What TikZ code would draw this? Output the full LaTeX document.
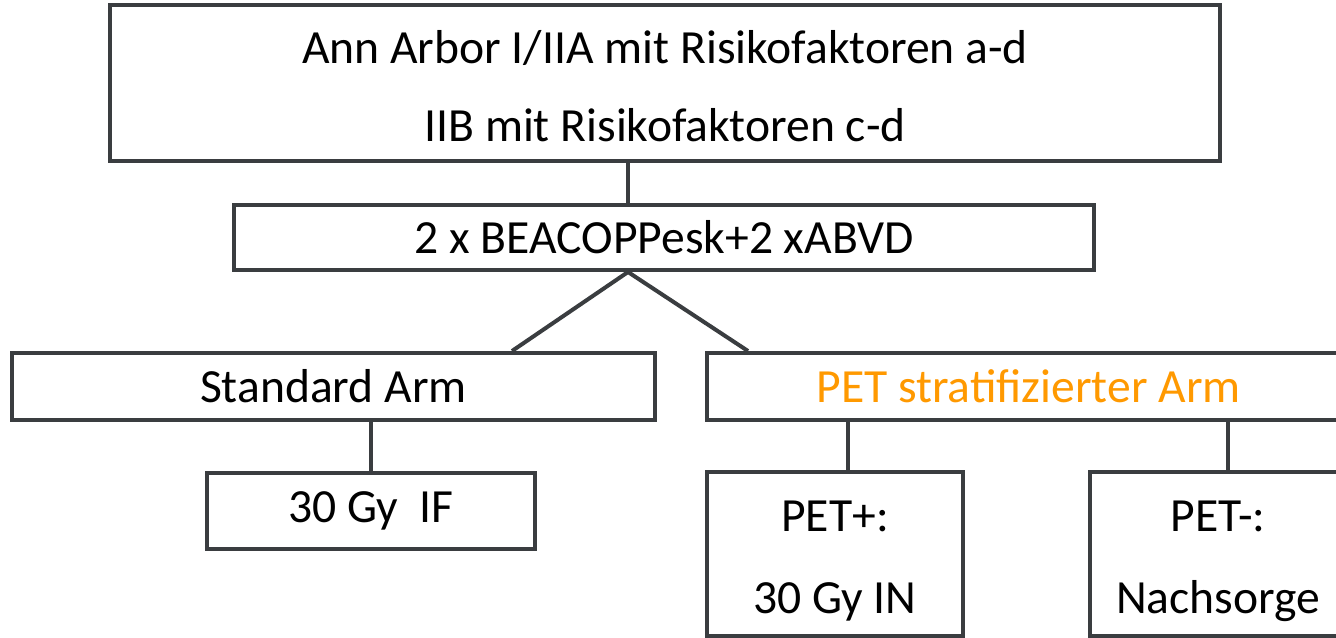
\documentclass[tikz,border=0pt]{standalone}
\usepackage{fontspec}
\setmainfont{Carlito}
\definecolor{linegray}{RGB}{58,61,64}
\definecolor{petorange}{RGB}{255,153,0}
\newcommand{\twolines}[3]{\raisebox{#1}[\height][\depth]{\begin{tabular}{@{}c@{}}#2\\#3\end{tabular}}}
\begin{document}
\begin{tikzpicture}[x=0.5pt,y=-0.5pt,
  box/.style={draw=linegray,line width=2pt,fill=white,rectangle,inner sep=0pt,align=center,
    font=\fontsize{23.8}{39}\selectfont},
  tallbox/.style={box,font=\fontsize{23.8}{41}\selectfont},
  conn/.style={draw=linegray,line width=2pt}]
\useasboundingbox (0,0) rectangle (1336,637);
\clip (0,0) rectangle (1336,637);
\node[box,minimum width=555pt,minimum height=75.5pt] (b1) at (665,82.5)
  {\twolines{-2pt}{Ann Arbor I/IIA mit Risikofaktoren a-d}{IIB mit Risikofaktoren c-d}};
\node[box,minimum width=430pt,minimum height=32.5pt] (b2) at (664,237.5) {2 x BEACOPPesk+2 xABVD};
\node[box,minimum width=321.5pt,minimum height=33.5pt] (b3) at (333.5,386.5) {Standard Arm};
\node[box,minimum width=321.5pt,minimum height=33.5pt,text=petorange] (b4) at (1028.5,386.5) {PET stratifizierter Arm};
\node[box,minimum width=164pt,minimum height=38pt] (b5) at (371,511) {30 Gy\ \ IF};
\node[tallbox,minimum width=128pt,minimum height=81pt] (b6) at (835,554) {\twolines{-1pt}{PET+:}{30 Gy IN}};
\node[tallbox,minimum width=128pt,minimum height=81pt] (b7) at (1218,554) {\twolines{-1pt}{PET-:}{Nachsorge}};
\coordinate (j1) at (628,0);
\coordinate (j3) at (512,0);
\coordinate (j4) at (748,0);
\coordinate (j5) at (371,0);
\coordinate (j6) at (848,0);
\coordinate (j7) at (1228,0);
\draw[conn] (b1.south -| j1) -- (b2.north -| j1);
\draw[conn,line join=miter] (b3.north -| j3) -- (b2.south -| j1) -- (b4.north -| j4);
\draw[conn] (b3.south -| j5) -- (b5.north -| j5);
\draw[conn] (b4.south -| j6) -- (b6.north -| j6);
\draw[conn] (b4.south -| j7) -- (b7.north -| j7);
\end{tikzpicture}
\end{document}
